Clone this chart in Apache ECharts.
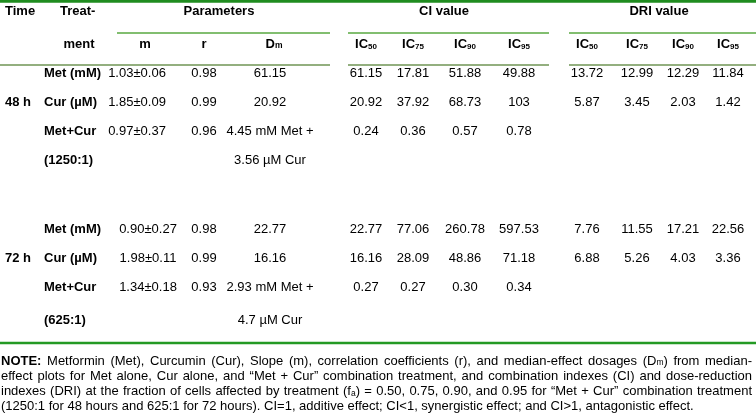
<!DOCTYPE html>
<html>
<head>
<meta charset="utf-8">
<script src="https://cdn.jsdelivr.net/npm/echarts@6/dist/echarts.min.js"></script>
<style>
html,body{margin:0;padding:0;background:#fff;}
#main{width:756px;height:416px;}
</style>
</head>
<body>
<div id="main"></div>
<script>
// ---------------- data ----------------
const timeLabels = ['48 h', '72 h'];
const treatLabels48 = ['Met (mM)', 'Cur (µM)', 'Met+Cur', '(1250:1)'];
const treatLabels72 = ['Met (mM)', 'Cur (µM)', 'Met+Cur', '(625:1)'];
const slopeM48 = ['1.03±0.06', '1.85±0.09', '0.97±0.37'];
const slopeM72 = ['0.90±0.27', '1.98±0.11', '1.34±0.18'];
const corrR48 = ['0.98', '0.99', '0.96'];
const corrR72 = ['0.98', '0.99', '0.93'];
const dm48 = ['61.15', '20.92', '4.45 mM Met +', '3.56 µM Cur'];
const dm72 = ['22.77', '16.16', '2.93 mM Met +', '4.7 µM Cur'];
const ci48 = [['61.15', '17.81', '51.88', '49.88'], ['20.92', '37.92', '68.73', '103'], ['0.24', '0.36', '0.57', '0.78']];
const ci72 = [['22.77', '77.06', '260.78', '597.53'], ['16.16', '28.09', '48.86', '71.18'], ['0.27', '0.27', '0.30', '0.34']];
const dri48 = [['13.72', '12.99', '12.29', '11.84'], ['5.87', '3.45', '2.03', '1.42']];
const dri72 = [['7.76', '11.55', '17.21', '22.56'], ['6.88', '5.26', '4.03', '3.36']];
const icLevels = ['50', '75', '90', '95'];
const groupHeaders = ['Parameters', 'CI value', 'DRI value'];
const paramHeaders = ['m', 'r', 'D{s|m}'];
const noteLines = [
  '{b|NOTE:} Metformin (Met), Curcumin (Cur), Slope (m), correlation coefficients (r), and median-effect dosages (D{s|m}) from median-',
  'effect plots for Met alone, Cur alone, and “Met + Cur” combination treatment, and combination indexes (CI) and dose-reduction',
  'indexes (DRI) at the fraction of cells affected by treatment (f{s|a}) = 0.50, 0.75, 0.90, and 0.95 for “Met + Cur” combination treatment',
  '(1250:1 for 48 hours and 625:1 for 72 hours). CI=1, additive effect; CI<1, synergistic effect; and CI>1, antagonistic effect.'
];

// ---------------- layout ----------------
const FF = '"Liberation Sans", Arial, Helvetica, sans-serif';
const FS = 13;
const colX = { m48: 137, m72: 148, r: 204, dm: 270, ci: [366, 413, 465, 519], dri: [587, 637, 683, 728] };
const rows48 = [73, 102, 131, 160];
const rows72 = [229, 258, 287, 320];
const g = [];

function txt(text, x, y, opt) {
  opt = opt || {};
  g.push({
    type: 'text', silent: true,
    style: {
      text: text, x: x, y: y,
      fill: '#000',
      fontFamily: FF,
      fontSize: opt.size || FS,
      fontWeight: opt.bold ? 'bold' : 'normal',
      align: opt.align || 'center',
      verticalAlign: 'middle',
      rich: {
        s: { fontFamily: FF, fontSize: opt.subSize || 8.5, fontWeight: opt.bold ? 'bold' : 'normal', verticalAlign: 'bottom', fill: '#000' },
        b: { fontFamily: FF, fontSize: opt.size || FS, fontWeight: 'bold', fill: '#000' }
      }
    }
  });
}
function hline(x1, x2, y, w, color) {
  g.push({ type: 'line', silent: true, shape: { x1: x1, y1: y, x2: x2, y2: y }, style: { stroke: color, lineWidth: w } });
}

// lines
hline(0, 756, 1.3, 2.8, '#1f8c1f');
[[117, 330], [348, 549], [569, 756]].forEach(s => hline(s[0], s[1], 33, 1.3, '#58a840'));
[[0, 330], [348, 549], [569, 756]].forEach(s => hline(s[0], s[1], 65, 1.5, '#6f9455'));
hline(0, 756, 343, 2.6, '#249a24');

// header
txt('Time', 5, 11, { bold: true, align: 'left' });
txt('Treat-', 60, 11, { bold: true, align: 'left' });
txt('ment', 79, 44, { bold: true });
txt(groupHeaders[0], 219, 11, { bold: true });
txt(groupHeaders[1], 444, 11, { bold: true });
txt(groupHeaders[2], 659, 11, { bold: true });
txt(paramHeaders[0], 145, 44, { bold: true });
txt(paramHeaders[1], 204, 44, { bold: true });
txt(paramHeaders[2], 274, 44, { bold: true });
icLevels.forEach((lv, i) => {
  txt('IC{s|' + lv + '}', colX.ci[i], 44, { bold: true, subSize: 8 });
  txt('IC{s|' + lv + '}', colX.dri[i], 44, { bold: true, subSize: 8 });
});

// body
function block(rows, time, treat, mv, rv, dm, ci, dri, mx) {
  txt(time, 5, rows[1], { bold: true, align: 'left' });
  treat.forEach((t, i) => txt(t, 44, rows[i], { bold: true, align: 'left' }));
  mv.forEach((v, i) => txt(v, mx, rows[i]));
  rv.forEach((v, i) => txt(v, colX.r, rows[i]));
  dm.forEach((v, i) => txt(v, colX.dm, rows[i]));
  ci.forEach((row, i) => row.forEach((v, j) => txt(v, colX.ci[j], rows[i])));
  dri.forEach((row, i) => row.forEach((v, j) => txt(v, colX.dri[j], rows[i])));
}
block(rows48, timeLabels[0], treatLabels48, slopeM48, corrR48, dm48, ci48, dri48, colX.m48);
block(rows72, timeLabels[1], treatLabels72, slopeM72, corrR72, dm72, ci72, dri72, colX.m72);

// note (justified)
const NFS = 13;
const NSUB = 8.5;
const ctx = document.createElement('canvas').getContext('2d');
function segs(word) {
  const out = []; const re = /\{(\w+)\|([^}]*)\}/g; let last = 0, m;
  while ((m = re.exec(word))) {
    if (m.index > last) out.push({ st: 'n', t: word.slice(last, m.index) });
    out.push({ st: m[1], t: m[2] }); last = re.lastIndex;
  }
  if (last < word.length) out.push({ st: 'n', t: word.slice(last) });
  return out;
}
function segW(s) {
  const size = s.st === 's' ? NSUB : NFS;
  ctx.font = (s.st === 'b' ? 'bold ' : '') + size + 'px ' + FF;
  return ctx.measureText(s.t).width;
}
ctx.font = NFS + 'px ' + FF;
const spaceW = ctx.measureText(' ').width;
const noteY = [361, 376.5, 391.5, 406.5];
const L = 1, R = 752;
noteLines.forEach((line, li) => {
  const words = line.split(' ');
  const ws = words.map(w => segs(w).reduce((a, s) => a + segW(s), 0));
  const tot = ws.reduce((a, b) => a + b, 0);
  const gap = li < noteLines.length - 1 ? (R - L - tot) / (words.length - 1) : spaceW;
  let x = L;
  words.forEach((w, i) => {
    txt(w, x, noteY[li], { size: NFS, subSize: NSUB, align: 'left' });
    x += ws[i] + gap;
  });
});

const chart = echarts.init(document.getElementById('main'), null, { renderer: 'canvas' });
chart.setOption({ backgroundColor: '#fff', animation: false, graphic: { elements: g } });
</script>
</body>
</html>
